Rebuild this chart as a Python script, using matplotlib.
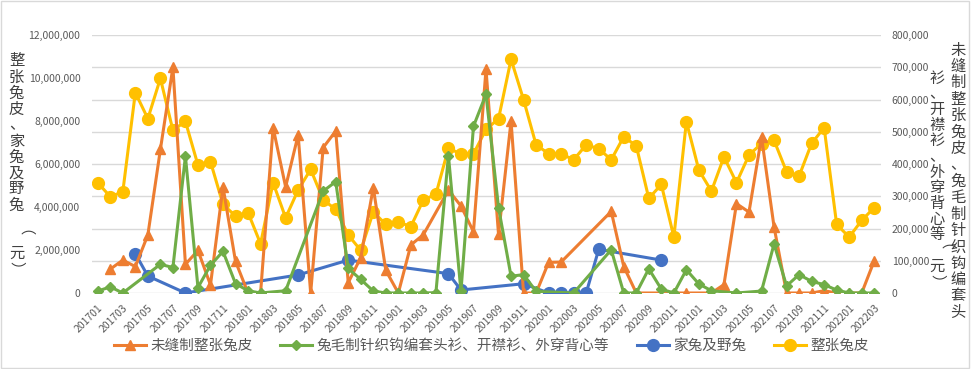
import numpy as np
import matplotlib
matplotlib.use("Agg")
import matplotlib.pyplot as plt
from matplotlib.patches import Rectangle
from matplotlib.ticker import FuncFormatter, MultipleLocator

plt.rcParams['font.family'] = ['Noto Sans CJK SC', 'DejaVu Sans']

# 月份 201701 - 202203
months = [f"{y}{m:02d}" for y in range(2017, 2023) for m in range(1, 13)][:63]
tick_labels = months[::2]

# 右轴 (元)
unsewn_skin = [None, 74000, 102000, 82000, 180000, 445000, 700000, 89000, 132000, 25000,
               329000, 98000, 0, 0, 513000, 329000, 490000, 0, 451000, 502000,
               32000, 110000, 327000, 70000, 0, 149000, 181000, None, 319000, 270000,
               190000, 694000, 182000, 533000, 0, 0, 95000, 96000, None, None,
               None, 253000, 82000, 0, None, None, 0, 0, None, 0,
               26000, 277000, 251000, 484000, 205000, 0, 0, 0, 7000, 0,
               0, 0, 100000]
knitwear = [6000, 19000, 0, None, None, 89000, 79000, 424000, 17000, 86000,
            129000, 29000, 7000, 0, None, 7000, None, None, 316000, 345000,
            76000, 42000, 6000, 0, 0, 0, 0, 1000, 426000, 5000,
            517000, 616000, 265000, 52000, 57000, 5000, None, None, 0, None,
            None, 134000, 0, 0, 75000, 12000, 0, 72000, 28000, 7000,
            None, 0, None, 6000, 152000, 22000, 57000, 36000, 26000, 9000,
            0, 0, 0]

# 左轴 (元)
rabbits = [None, None, None, 1830000, 790000, None, None, 0, None, None,
           None, None, None, None, None, None, 840000, None, None, None,
           1530000, None, None, None, None, None, None, None, 900000, 140000,
           None, None, None, None, 430000, None, 0, 0, 0, 0,
           2030000, None, None, None, None, 1530000, None, None, None, None,
           None, None, None, None, None, None, None, None, None, None,
           None, None, None]
whole_skin = [5.13, 4.48, 4.71, 9.32, 8.11, 9.98, 7.57, 7.98, 5.95, 6.11,
              4.12, 3.58, 3.74, 2.29, 5.13, 3.50, 4.79, 5.75, 4.33, 3.89,
              2.70, 1.98, 3.77, 3.19, 3.30, 3.09, 4.33, 4.59, 6.73, 6.47,
              6.47, 7.61, 8.10, 10.87, 8.99, 6.89, 6.48, 6.47, 6.20, 6.89,
              6.71, 6.20, 7.27, 6.84, 4.40, 5.05, 2.60, 7.97, 5.71, 4.74,
              6.33, 5.13, 6.42, 6.95, 7.10, 5.64, 5.44, 6.96, 7.69, 3.19,
              2.60, 3.38, 3.97]
whole_skin = [v * 1e6 for v in whole_skin]

names = ['未缝制整张兔皮', '兔毛制针织钩编套头衫、开襟衫、外穿背心等', '家兔及野兔', '整张兔皮']
colors = ['#ED7D31', '#70AD47', '#4472C4', '#FFC000']


def pts(vals):
    # 空值跳过, 线段直接连接
    x = [i for i, v in enumerate(vals) if v is not None]
    y = [v for v in vals if v is not None]
    return x, y


fig = plt.figure(figsize=(9.71, 3.69), dpi=100)
ax = fig.add_axes([91.5 / 971, 76 / 369, 789 / 971, 258 / 369])
ax2 = ax.twinx()

# 网格线 (按右轴 100,000 间隔)
for k in range(9):
    ax.axhline(k * 1.5e6, color='#d9d9d9', lw=1.0, zorder=0)

h3, = ax.plot(*pts(rabbits), color=colors[2], lw=2.2, marker='o', ms=8.5, label=names[2])
h4, = ax.plot(*pts(whole_skin), color=colors[3], lw=2.2, marker='o', ms=8.5, label=names[3])
h1, = ax2.plot(*pts(unsewn_skin), color=colors[0], lw=2.2, marker='^', ms=7.5, label=names[0])
h2, = ax2.plot(*pts(knitwear), color=colors[1], lw=2.2, marker='D', ms=5, label=names[1])

ax.set_xlim(-0.5, 62.5)
ax.set_ylim(0, 12e6)
ax2.set_ylim(0, 8e5)
ax.yaxis.set_major_locator(MultipleLocator(2e6))
ax2.yaxis.set_major_locator(MultipleLocator(1e5))
fmt = FuncFormatter(lambda v, p: f"{int(v):,}")
ax.yaxis.set_major_formatter(fmt)
ax2.yaxis.set_major_formatter(fmt)

ax.set_xticks(range(0, 63, 2))
ax.set_xticklabels(tick_labels, rotation=45, ha='right', va='top', rotation_mode='anchor')

for a in (ax, ax2):
    for s in a.spines.values():
        s.set_visible(False)
ax.tick_params(axis='both', length=0, labelsize=7.5, labelcolor='#595959')
ax.tick_params(axis='y', pad=8)
ax.tick_params(axis='x', pad=7)
ax2.tick_params(axis='y', length=0, labelsize=7.5, labelcolor='#595959', pad=8)

# 竖排坐标轴标题 (括号旋转成竖排样式)
W, H = 971, 369


def vtext(x, y0, step, chars):
    for k, ch in enumerate(chars):
        rot = -90 if ch in '（）' else 0
        fig.text(x / W, 1 - (y0 + step * k) / H, ch, ha='center', va='center',
                 fontsize=11, color='#404040', rotation=rot)


vtext(16.5, 61, 16, list('整张兔皮、家兔及野兔') + [''] + list('（元）'))
vtext(958, 50, 16.4, list('未缝制整张兔皮、兔毛制针织钩编套头'))
vtext(937, 78, 15.7, list('衫、开襟衫、外穿背心等（元）'))

fig.legend([h1, h2, h3, h4], names, loc='center', bbox_to_anchor=(0.506, 23 / H),
           ncol=4, frameon=False, fontsize=10.5, labelcolor='#595959',
           handlelength=2.2, columnspacing=1.9, handletextpad=0.3)

fig.patches.append(Rectangle((0.001, 0.002), 0.997, 0.995, transform=fig.transFigure,
                             fill=False, ec='#d9d9d9', lw=1))

fig.savefig('out.png', dpi=100)
